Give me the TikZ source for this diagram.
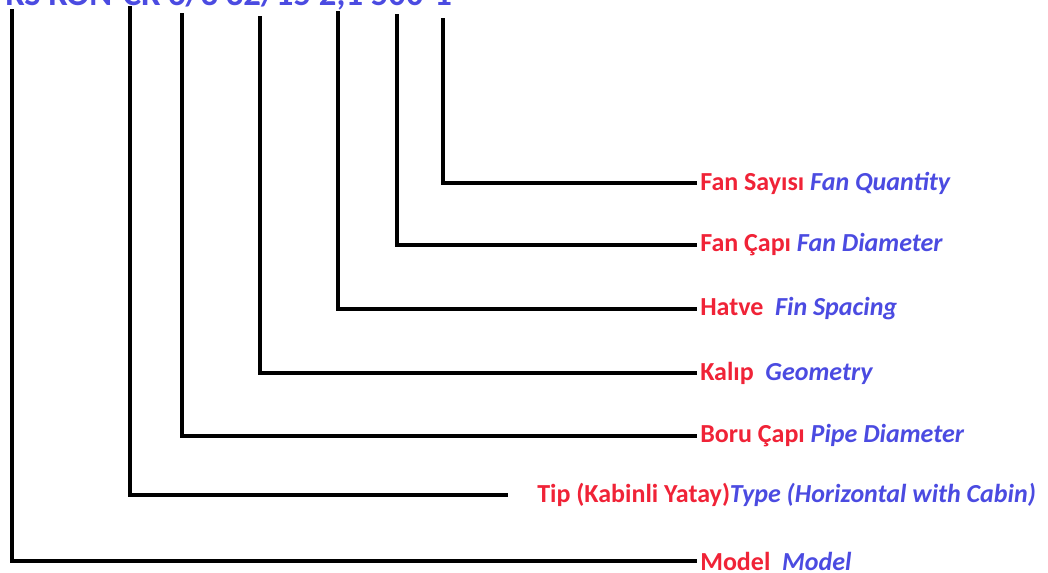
\documentclass[tikz,border=0pt]{standalone}
\usepackage{fontspec}
\setmainfont{Carlito}
\usetikzlibrary{calc}
\definecolor{lred}{RGB}{240,35,55}
\definecolor{lblue}{RGB}{75,75,225}
\tikzset{
  lead/.style={line width=3pt, black},
  lbl/.style={anchor=west, inner xsep=2.25pt, inner ysep=0pt, font=\bfseries\fontsize{19.5}{23}\selectfont},
}
\newcommand{\tr}[1]{\textcolor{lred}{#1}}
\newcommand{\en}[1]{\textcolor{lblue}{\itshape #1}}
\begin{document}
\begin{tikzpicture}[x=0.75pt,y=-0.75pt]
\useasboundingbox (0,0) rectangle (1048,572);
\node[anchor=base east, inner sep=0pt, text=lblue, font=\bfseries\fontsize{26}{30}\selectfont] (code) at (452,5) {FKS KON-CK 6/3 32/15 2,1 500-1};
% labels
\node[lbl] (fq) at (697,183) {\tr{Fan Sayısı} \en{Fan Quantity}};
\node[lbl] (fd) at (697,245) {\tr{Fan Çapı} \en{Fan Diameter}};
\node[lbl] (fs) at (697,309) {\tr{Hatve}\ \ \en{Fin Spacing}};
\node[lbl] (ge) at (697,373) {\tr{Kalıp}\ \ \en{Geometry}};
\node[lbl] (pd) at (697,436) {\tr{Boru Çapı} \en{Pipe Diameter}};
\node[lbl] (ty) at (534,495) {\tr{Tip (Kabinli Yatay)}\en{Type (Horizontal with Cabin)}};
\node[lbl] (mo) at (697,561) {\tr{Model}\ \ \en{Model}};
% top ends
\coordinate (c1) at (443,18);
\coordinate (c2) at (397,14);
\coordinate (c3) at (338,11);
\coordinate (c4) at (260,16);
\coordinate (c5) at (182,13);
\coordinate (c6) at (130,6);
\coordinate (c7) at (12,9);
\draw[lead] (c1) |- (fq.west);
\draw[lead] (c2) |- (fd.west);
\draw[lead] (c3) |- (fs.west);
\draw[lead] (c4) |- (ge.west);
\draw[lead] (c5) |- (pd.west);
\draw[lead] (c6) |- ($(ty.west)+(-26,0)$);
\draw[lead] (c7) |- (mo.west);
\end{tikzpicture}
\end{document}
